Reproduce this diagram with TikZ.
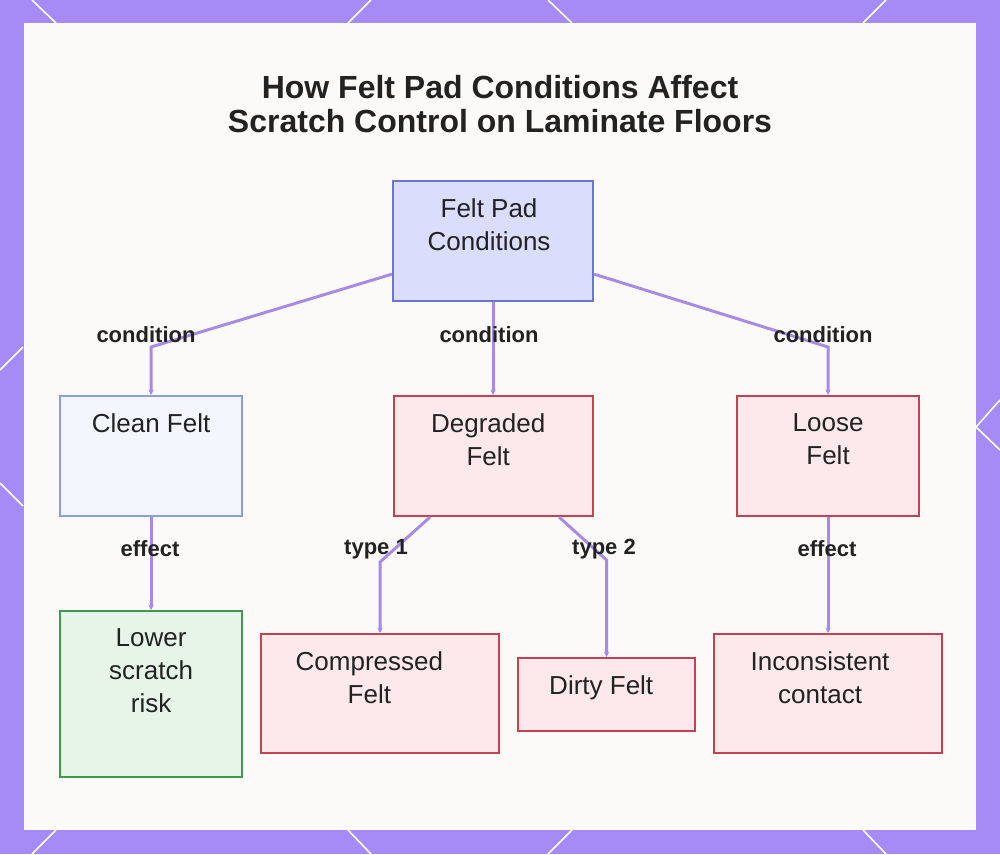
\documentclass[tikz,border=0pt]{standalone}
\usepackage{fontspec}
\setmainfont{Liberation Sans}
\usetikzlibrary{positioning, arrows.meta}
\definecolor{framepurple}{HTML}{A68BF7}
\definecolor{panelbg}{HTML}{FBFAF8}
\definecolor{inkdark}{HTML}{222222}
\definecolor{edgepurple}{HTML}{A68AE6}
\definecolor{rootfill}{HTML}{DADDFB}
\definecolor{rootline}{HTML}{6A76CF}
\definecolor{cleanfill}{HTML}{F4F6FE}
\definecolor{cleanline}{HTML}{8C9DE6}
\definecolor{badfill}{HTML}{FDE9EB}
\definecolor{badline}{HTML}{C64252}
\definecolor{goodfill}{HTML}{E7F5E9}
\definecolor{goodline}{HTML}{3C9B4C}

\begin{document}
\begin{tikzpicture}[
		x=0.75pt, y=-0.75pt,
		>={Stealth[length=4pt, width=4pt]},
		box/.style={draw, line width=1.6pt, rectangle, anchor=north west, inner sep=0pt},
		rootbox/.style={box, draw=rootline, fill=rootfill},
		cleanbox/.style={box, draw=cleanline, fill=cleanfill},
		badbox/.style={box, draw=badline, fill=badfill},
		goodbox/.style={box, draw=goodline, fill=goodfill},
		lbl/.style={anchor=north, align=center, inner sep=0pt, text=inkdark, font=\fontsize{19.5}{25}\selectfont},
		elbl/.style={inner sep=0pt, text=inkdark, font=\bfseries\fontsize{16.5}{18}\selectfont},
		edge/.style={->, draw=edgepurple, line width=2.2pt},
		deco/.style={draw=white, line width=1.2pt},
	]
	\useasboundingbox (0,0) rectangle (1000,854);
	\fill[framepurple] (0,0) rectangle (1000,854);
	\draw[deco] (32,0) -- (56,23);
	\draw[deco] (371,0) -- (348,23);
	\draw[deco] (548,0) -- (572,23);
	\draw[deco] (886,0) -- (863,23);
	\draw[deco] (56,830) -- (32,854);
	\draw[deco] (348,830) -- (371,854);
	\draw[deco] (572,830) -- (548,854);
	\draw[deco] (863,830) -- (886,854);
	\draw[deco] (0,370) -- (23,347);
	\draw[deco] (0,483) -- (23,506);
	\draw[deco] (1000,400) -- (976,427) -- (1000,450);
	\fill[panelbg] (24,23) rectangle (976,830);

	\node[anchor=north, align=center, inner sep=0pt, text=inkdark, font=\bfseries\fontsize{24}{25.5}\selectfont] (title) at (500,75)
		{How Felt Pad Conditions Affect\\Scratch Control on Laminate Floors};

	% boxes
	\node[rootbox, minimum width=150pt, minimum height=90pt] (root) at (392,180) {};
	\node[cleanbox, minimum width=136.5pt, minimum height=90pt] (clean) at (59,395) {};
	\node[badbox, minimum width=149.25pt, minimum height=90pt] (degraded) at (393,395) {};
	\node[badbox, minimum width=136.5pt, minimum height=90pt] (loose) at (736,395) {};
	\node[goodbox, minimum width=136.5pt, minimum height=124.5pt] (lower) at (59,610) {};
	\node[badbox, minimum width=178.5pt, minimum height=89.25pt] (compressed) at (260,633) {};
	\node[badbox, minimum width=132.75pt, minimum height=54.75pt] (dirty) at (517,657) {};
	\node[badbox, minimum width=171pt, minimum height=89.25pt] (inconsistent) at (713,633) {};

	\node[lbl] (root-t) at ([xshift=-3pt, yshift=-13.5pt]root.north) {Felt Pad\\Conditions};
	\node[lbl] (clean-t) at ([yshift=-13.5pt]clean.north) {Clean Felt};
	\node[lbl] (degraded-t) at ([xshift=-4pt, yshift=-13.5pt]degraded.north) {Degraded\\Felt};
	\node[lbl] (loose-t) at ([yshift=-13.5pt]loose.north) {Loose\\Felt};
	\node[lbl] (lower-t) at ([yshift=-13.5pt]lower.north) {Lower\\scratch\\risk};
	\node[lbl] (compressed-t) at ([xshift=-8pt, yshift=-13.5pt]compressed.north) {Compressed\\Felt};
	\node[lbl] (dirty-t) at ([xshift=-4pt, yshift=-13.5pt]dirty.north) {Dirty Felt};
	\node[lbl] (inconsistent-t) at ([xshift=-6pt, yshift=-13.5pt]inconsistent.north) {Inconsistent\\contact};

	% connectors
	\draw[edge] ([shift={(0,-28)}]root.south west) -- ([shift={(0,-48)}]clean.north) -- (clean.north);
	\draw[edge] (root.south) -- (degraded.north -| root.south);
	\draw[edge] ([shift={(0,-28)}]root.south east) -- ([shift={(0,-48)}]loose.north) -- (loose.north);
	\draw[edge] (clean.south) -- (lower.north);
	\draw[edge] ([shift={(37,0)}]degraded.south west) -- ([shift={(0,-71)}]compressed.north) -- (compressed.north);
	\draw[edge] ([shift={(-35,0)}]degraded.south east) -- ([shift={(0,-97)}]dirty.north) -- (dirty.north);
	\draw[edge] (loose.south) -- (inconsistent.north -| loose.south);

	\node[elbl] (cond1) at (146,335) {condition};
	\node[elbl] (cond2) at (489,335) {condition};
	\node[elbl] (cond3) at (823,335) {condition};
	\node[elbl] (eff1) at (150,549) {effect};
	\node[elbl] (type1) at (376,549) {type 1};
	\node[elbl] (type2) at (604,549) {type 2};
	\node[elbl] (eff2) at (827,549) {effect};
\end{tikzpicture}
\end{document}
